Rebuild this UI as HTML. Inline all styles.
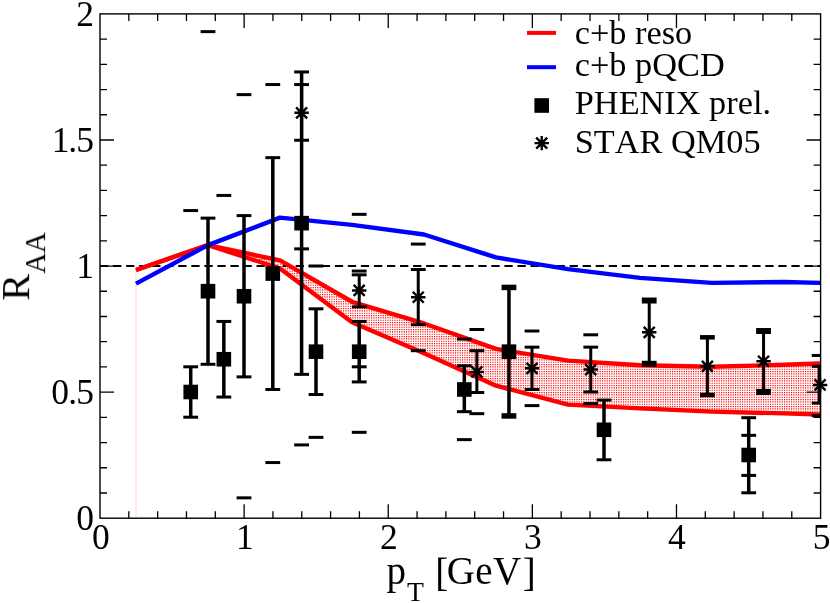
<!DOCTYPE html>
<html><head><meta charset="utf-8"><title>RAA</title>
<style>
html,body{margin:0;padding:0;background:#fff;}
body{width:830px;height:603px;overflow:hidden;}
svg{display:block;}
text{font-family:"Liberation Serif",serif;fill:#000;font-kerning:none;}
</style></head><body>
<svg width="830" height="603" viewBox="0 0 830 603">
<defs>
<pattern id="hat" width="7" height="7" patternUnits="userSpaceOnUse">
<rect width="7" height="7" fill="#fff"/>
<path d="M0.000 0.000h1.15v1.15h-1.15zM0.000 2.333h1.15v1.15h-1.15zM0.000 4.667h1.15v1.15h-1.15zM2.333 0.000h1.15v1.15h-1.15zM2.333 2.333h1.15v1.15h-1.15zM2.333 4.667h1.15v1.15h-1.15zM4.667 0.000h1.15v1.15h-1.15zM4.667 2.333h1.15v1.15h-1.15zM4.667 4.667h1.15v1.15h-1.15z" fill="#ff0000"/>
</pattern>
<clipPath id="clip"><rect x="100" y="14" width="721" height="505"/></clipPath>
</defs>
<rect width="830" height="603" fill="#fff"/>

<g clip-path="url(#clip)">
<polygon points="136,270.03 208,245.08 280,260.46 352,301.78 424,323.46 496,348.91 568,360.6 640,365.29 712,366.8 784,364.78 820,363.52 820,414.43 784,413.42 712,411.66 640,408.38 568,404.6 496,385.7 424,353.19 352,322.2 280,268.52 208,245.08 136,270.03" fill="url(#hat)"/>
<line x1="136" y1="270.03" x2="136" y2="518" stroke="#ff0000" stroke-width="0.8" stroke-dasharray="1 1.3" opacity="0.5"/>
<line x1="100" y1="266" x2="820" y2="266" stroke="#000" stroke-width="2" stroke-dasharray="8.3 4.745"/>
<polyline points="136,270.03 208,245.08 280,260.46 352,301.78 424,323.46 496,348.91 568,360.6 640,365.29 712,366.8 784,364.78 820,363.52" fill="none" stroke="#ff0000" stroke-width="4.4" stroke-linejoin="round" stroke-linecap="butt"/>
<polyline points="136,270.03 208,245.08 280,268.52 352,322.2 424,353.19 496,385.7 568,404.6 640,408.38 712,411.66 784,413.42 820,414.43" fill="none" stroke="#ff0000" stroke-width="4.4" stroke-linejoin="round" stroke-linecap="butt"/>
<polyline points="136,283.64 208,245.08 280,217.62 352,224.92 424,234.5 496,257.43 568,269.12 640,277.84 712,282.88 784,282 820,282.88" fill="none" stroke="#0000ff" stroke-width="4.4" stroke-linejoin="round" stroke-linecap="butt"/>
<rect x="188.97" y="366.8" width="3.5" height="50.4" fill="#000"/>
<rect x="183.32" y="415.7" width="14.8" height="3" fill="#000"/>
<rect x="183.32" y="365.3" width="14.8" height="3" fill="#000"/>
<rect x="183.32" y="209.06" width="14.8" height="3" fill="#000"/>
<rect x="183.42" y="384.7" width="14.6" height="14.6" fill="#000"/>
<rect x="206.25" y="218.12" width="3.5" height="146.16" fill="#000"/>
<rect x="200.6" y="362.78" width="14.8" height="3" fill="#000"/>
<rect x="200.6" y="216.62" width="14.8" height="3" fill="#000"/>
<rect x="200.6" y="30.14" width="14.8" height="3" fill="#000"/>
<rect x="200.7" y="283.9" width="14.6" height="14.6" fill="#000"/>
<rect x="222.09" y="321.44" width="3.5" height="75.6" fill="#000"/>
<rect x="216.44" y="395.54" width="14.8" height="3" fill="#000"/>
<rect x="216.44" y="319.94" width="14.8" height="3" fill="#000"/>
<rect x="216.44" y="193.94" width="14.8" height="3" fill="#000"/>
<rect x="216.54" y="351.94" width="14.6" height="14.6" fill="#000"/>
<rect x="242.25" y="215.6" width="3.5" height="161.28" fill="#000"/>
<rect x="236.6" y="375.38" width="14.8" height="3" fill="#000"/>
<rect x="236.6" y="214.1" width="14.8" height="3" fill="#000"/>
<rect x="236.6" y="93.14" width="14.8" height="3" fill="#000"/>
<rect x="236.6" y="496.34" width="14.8" height="3" fill="#000"/>
<rect x="236.7" y="288.94" width="14.6" height="14.6" fill="#000"/>
<rect x="271.05" y="157.64" width="3.5" height="231.84" fill="#000"/>
<rect x="265.4" y="387.98" width="14.8" height="3" fill="#000"/>
<rect x="265.4" y="156.14" width="14.8" height="3" fill="#000"/>
<rect x="265.4" y="83.06" width="14.8" height="3" fill="#000"/>
<rect x="265.4" y="461.06" width="14.8" height="3" fill="#000"/>
<rect x="265.5" y="266.26" width="14.6" height="14.6" fill="#000"/>
<rect x="299.85" y="71.96" width="3.5" height="302.4" fill="#000"/>
<rect x="294.2" y="372.86" width="14.8" height="3" fill="#000"/>
<rect x="294.2" y="70.46" width="14.8" height="3" fill="#000"/>
<rect x="294.2" y="443.42" width="14.8" height="3" fill="#000"/>
<rect x="294.3" y="215.86" width="14.6" height="14.6" fill="#000"/>
<rect x="314.25" y="308.84" width="3.5" height="85.68" fill="#000"/>
<rect x="308.6" y="393.02" width="14.8" height="3" fill="#000"/>
<rect x="308.6" y="307.34" width="14.8" height="3" fill="#000"/>
<rect x="308.6" y="264.5" width="14.8" height="3" fill="#000"/>
<rect x="308.6" y="435.86" width="14.8" height="3" fill="#000"/>
<rect x="308.7" y="344.38" width="14.6" height="14.6" fill="#000"/>
<rect x="357.45" y="321.44" width="3.5" height="60.48" fill="#000"/>
<rect x="351.8" y="380.42" width="14.8" height="3" fill="#000"/>
<rect x="351.8" y="319.94" width="14.8" height="3" fill="#000"/>
<rect x="351.8" y="430.82" width="14.8" height="3" fill="#000"/>
<rect x="351.9" y="344.38" width="14.6" height="14.6" fill="#000"/>
<rect x="462.57" y="365.79" width="3.5" height="45.86" fill="#000"/>
<rect x="456.92" y="410.16" width="14.8" height="3" fill="#000"/>
<rect x="456.92" y="364.29" width="14.8" height="3" fill="#000"/>
<rect x="456.92" y="337.58" width="14.8" height="3" fill="#000"/>
<rect x="456.92" y="438.13" width="14.8" height="3" fill="#000"/>
<rect x="457.02" y="382.18" width="14.6" height="14.6" fill="#000"/>
<rect x="507.21" y="287.42" width="3.5" height="128.52" fill="#000"/>
<rect x="501.56" y="413.19" width="14.8" height="5.5" fill="#000"/>
<rect x="501.56" y="284.67" width="14.8" height="5.5" fill="#000"/>
<rect x="501.66" y="344.38" width="14.6" height="14.6" fill="#000"/>
<rect x="602.25" y="400.06" width="3.5" height="59.72" fill="#000"/>
<rect x="596.6" y="458.29" width="14.8" height="3" fill="#000"/>
<rect x="596.6" y="398.56" width="14.8" height="3" fill="#000"/>
<rect x="596.7" y="422.5" width="14.6" height="14.6" fill="#000"/>
<rect x="746.97" y="417.7" width="3.5" height="75.1" fill="#000"/>
<rect x="741.32" y="491.3" width="14.8" height="3" fill="#000"/>
<rect x="741.32" y="416.2" width="14.8" height="3" fill="#000"/>
<rect x="741.32" y="433.84" width="14.8" height="3" fill="#000"/>
<rect x="741.32" y="473.91" width="14.8" height="3" fill="#000"/>
<rect x="741.42" y="447.7" width="14.6" height="14.6" fill="#000"/>
<rect x="300.1" y="84.56" width="3" height="55.69" fill="#000"/>
<rect x="294.2" y="138.75" width="14.8" height="3" fill="#000"/>
<rect x="294.2" y="83.06" width="14.8" height="3" fill="#000"/>
<rect x="294.2" y="247.36" width="14.8" height="3" fill="#000"/>
<path d="M294.4 112.78H308.8M301.6 105.58V119.98M296.1 107.28L307.1 118.28M296.1 118.28L307.1 107.28" stroke="#000" stroke-width="2.4" fill="none"/>
<rect x="357.7" y="274.82" width="3" height="32" fill="#000"/>
<rect x="351.8" y="305.32" width="14.8" height="3" fill="#000"/>
<rect x="351.8" y="273.32" width="14.8" height="3" fill="#000"/>
<rect x="351.8" y="212.84" width="14.8" height="3" fill="#000"/>
<rect x="351.8" y="269.54" width="14.8" height="3" fill="#000"/>
<rect x="351.8" y="365.3" width="14.8" height="3" fill="#000"/>
<path d="M352 290.44H366.4M359.2 283.24V297.64M353.7 284.94L364.7 295.94M353.7 295.94L364.7 284.94" stroke="#000" stroke-width="2.4" fill="none"/>
<rect x="416.74" y="269.53" width="3" height="55.19" fill="#000"/>
<rect x="410.84" y="323.22" width="14.8" height="3" fill="#000"/>
<rect x="410.84" y="268.03" width="14.8" height="3" fill="#000"/>
<rect x="410.84" y="242.58" width="14.8" height="3" fill="#000"/>
<rect x="410.84" y="349.17" width="14.8" height="3" fill="#000"/>
<path d="M411.04 297.25H425.44M418.24 290.05V304.45M412.74 291.75L423.74 302.75M412.74 302.75L423.74 291.75" stroke="#000" stroke-width="2.4" fill="none"/>
<rect x="475.35" y="350.67" width="3" height="41.83" fill="#000"/>
<rect x="469.45" y="391" width="14.8" height="3" fill="#000"/>
<rect x="469.45" y="349.17" width="14.8" height="3" fill="#000"/>
<rect x="469.45" y="328" width="14.8" height="3" fill="#000"/>
<rect x="469.45" y="412.17" width="14.8" height="3" fill="#000"/>
<path d="M469.65 371.84H484.05M476.85 364.64V379.04M471.35 366.34L482.35 377.34M471.35 377.34L482.35 366.34" stroke="#000" stroke-width="2.4" fill="none"/>
<rect x="530.5" y="347.14" width="3" height="42.34" fill="#000"/>
<rect x="524.6" y="387.98" width="14.8" height="3" fill="#000"/>
<rect x="524.6" y="345.64" width="14.8" height="3" fill="#000"/>
<rect x="524.6" y="329.52" width="14.8" height="3" fill="#000"/>
<rect x="524.6" y="404.11" width="14.8" height="3" fill="#000"/>
<path d="M524.8 368.31H539.2M532 361.11V375.51M526.5 362.81L537.5 373.81M526.5 373.81L537.5 362.81" stroke="#000" stroke-width="2.4" fill="none"/>
<rect x="589.25" y="347.14" width="3" height="44.86" fill="#000"/>
<rect x="583.35" y="390.5" width="14.8" height="3" fill="#000"/>
<rect x="583.35" y="345.64" width="14.8" height="3" fill="#000"/>
<rect x="583.35" y="333.3" width="14.8" height="3" fill="#000"/>
<rect x="583.35" y="402.09" width="14.8" height="3" fill="#000"/>
<path d="M583.55 369.57H597.95M590.75 362.37V376.77M585.25 364.07L596.25 375.07M585.25 375.07L596.25 364.07" stroke="#000" stroke-width="2.4" fill="none"/>
<rect x="647.72" y="300.52" width="3" height="63.25" fill="#000"/>
<rect x="641.82" y="360.78" width="14.8" height="6" fill="#000"/>
<rect x="641.82" y="297.52" width="14.8" height="6" fill="#000"/>
<path d="M642.02 332.28H656.42M649.22 325.08V339.48M643.72 326.78L654.72 337.78M643.72 337.78L654.72 326.78" stroke="#000" stroke-width="2.4" fill="none"/>
<rect x="705.89" y="337.32" width="3" height="57.71" fill="#000"/>
<rect x="699.99" y="392.77" width="14.8" height="4.5" fill="#000"/>
<rect x="699.99" y="335.07" width="14.8" height="4.5" fill="#000"/>
<path d="M700.19 366.3H714.59M707.39 359.1V373.5M701.89 360.8L712.89 371.8M701.89 371.8L712.89 360.8" stroke="#000" stroke-width="2.4" fill="none"/>
<rect x="762.05" y="331.02" width="3" height="60.98" fill="#000"/>
<rect x="756.15" y="389" width="14.8" height="6" fill="#000"/>
<rect x="756.15" y="328.02" width="14.8" height="6" fill="#000"/>
<path d="M756.35 361.26H770.75M763.55 354.06V368.46M758.05 355.76L769.05 366.76M758.05 366.76L769.05 355.76" stroke="#000" stroke-width="2.4" fill="none"/>
<rect x="817.64" y="366.3" width="3" height="36.79" fill="#000"/>
<rect x="811.74" y="401.59" width="14.8" height="3" fill="#000"/>
<rect x="811.74" y="364.8" width="14.8" height="3" fill="#000"/>
<rect x="811.74" y="353.96" width="14.8" height="3" fill="#000"/>
<rect x="811.74" y="414.19" width="14.8" height="3" fill="#000"/>
</g>
<rect x="100" y="13.9" width="720.6" height="504.3" fill="none" stroke="#000" stroke-width="1.4"/>
<path d="M128.82 518.2v-7 M128.82 13.9v7 M157.65 518.2v-7 M157.65 13.9v7 M186.47 518.2v-7 M186.47 13.9v7 M215.3 518.2v-7 M215.3 13.9v7 M244.12 518.2v-14 M244.12 13.9v14 M272.94 518.2v-7 M272.94 13.9v7 M301.77 518.2v-7 M301.77 13.9v7 M330.59 518.2v-7 M330.59 13.9v7 M359.42 518.2v-7 M359.42 13.9v7 M388.24 518.2v-14 M388.24 13.9v14 M417.06 518.2v-7 M417.06 13.9v7 M445.89 518.2v-7 M445.89 13.9v7 M474.71 518.2v-7 M474.71 13.9v7 M503.54 518.2v-7 M503.54 13.9v7 M532.36 518.2v-14 M532.36 13.9v14 M561.18 518.2v-7 M561.18 13.9v7 M590.01 518.2v-7 M590.01 13.9v7 M618.83 518.2v-7 M618.83 13.9v7 M647.66 518.2v-7 M647.66 13.9v7 M676.48 518.2v-14 M676.48 13.9v14 M705.3 518.2v-7 M705.3 13.9v7 M734.13 518.2v-7 M734.13 13.9v7 M762.95 518.2v-7 M762.95 13.9v7 M791.78 518.2v-7 M791.78 13.9v7 M100 492.99h7 M820.6 492.99h-7 M100 467.77h7 M820.6 467.77h-7 M100 442.56h7 M820.6 442.56h-7 M100 417.34h7 M820.6 417.34h-7 M100 392.12h14 M820.6 392.12h-14 M100 366.91h7 M820.6 366.91h-7 M100 341.7h7 M820.6 341.7h-7 M100 316.48h7 M820.6 316.48h-7 M100 291.26h7 M820.6 291.26h-7 M100 266.05h14 M820.6 266.05h-14 M100 240.83h7 M820.6 240.83h-7 M100 215.62h7 M820.6 215.62h-7 M100 190.41h7 M820.6 190.41h-7 M100 165.19h7 M820.6 165.19h-7 M100 139.98h14 M820.6 139.98h-14 M100 114.76h7 M820.6 114.76h-7 M100 89.55h7 M820.6 89.55h-7 M100 64.33h7 M820.6 64.33h-7 M100 39.12h7 M820.6 39.12h-7" stroke="#000" stroke-width="1.3" fill="none"/>
<path d="M812.9 384.94H827.3M820.1 377.74V392.14M814.6 379.44L825.6 390.44M814.6 390.44L825.6 379.44" stroke="#000" stroke-width="2.4" fill="none"/>
<g opacity="0.999">
<text x="100.9" y="549.4" font-size="35.5" text-anchor="middle">0</text>
<text x="244.9" y="549.4" font-size="35.5" text-anchor="middle">1</text>
<text x="388.9" y="549.4" font-size="35.5" text-anchor="middle">2</text>
<text x="532.9" y="549.4" font-size="35.5" text-anchor="middle">3</text>
<text x="676.9" y="549.4" font-size="35.5" text-anchor="middle">4</text>
<text x="821.7" y="549.4" font-size="35.5" text-anchor="middle">5</text>
<text x="93.9" y="530.4" font-size="35.5" text-anchor="end" letter-spacing="0">0</text>
<text x="93" y="404.4" font-size="35.5" text-anchor="end" letter-spacing="-0.9">0.5</text>
<text x="93.9" y="278.4" font-size="35.5" text-anchor="end" letter-spacing="0">1</text>
<text x="92.8" y="152.4" font-size="35.5" text-anchor="end" letter-spacing="-1.1">1.5</text>
<text x="93.9" y="26.4" font-size="35.5" text-anchor="end" letter-spacing="0">2</text>
<text y="584" font-size="39"><tspan x="386.5">p</tspan><tspan font-size="27.7" dx="1" dy="17.1">T</tspan><tspan dy="-15.1" dx="1.5"> [</tspan><tspan dy="-2" dx="-1.5">G</tspan><tspan dx="0.3">e</tspan><tspan dx="0.6">V</tspan><tspan dy="2" dx="1.4">]</tspan></text>
<g transform="translate(29.1,300.7) rotate(-90)"><text x="0" y="0" font-size="40.3">R<tspan font-size="28.8" dy="15.7">AA</tspan></text></g>
<line x1="527" y1="32.9" x2="556" y2="32.9" stroke="#ff0000" stroke-width="4"/>
<line x1="527" y1="67.2" x2="556" y2="67.2" stroke="#0000ff" stroke-width="4"/>
<rect x="534.4" y="98.2" width="14.6" height="14.6" fill="#000"/>
<path d="M534.5 143.1H548.9M541.7 135.9V150.3M536.2 137.6L547.2 148.6M536.2 148.6L547.2 137.6" stroke="#000" stroke-width="2.4" fill="none"/>
<text x="574.8" y="44.2" font-size="34.3">c+b reso</text>
<text x="574.8" y="75.6" font-size="34.3">c+b pQCD</text>
<text x="574.8" y="113.7" font-size="34.3">PHENIX prel.</text>
<text x="574.8" y="152.6" font-size="34.3">STAR QM05</text>
</g>
</svg></body></html>
